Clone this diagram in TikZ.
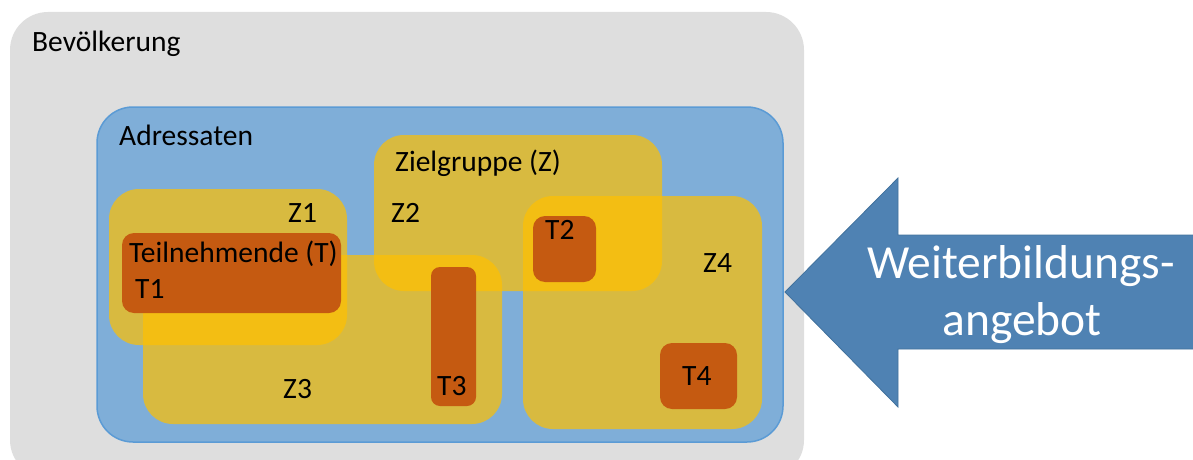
\documentclass[tikz,border=0pt]{standalone}
\usepackage{fontspec}
\setmainfont{Carlito}
\usepackage{tikz}

\definecolor{grau}{HTML}{DEDEDE}
\definecolor{adrblau}{HTML}{7FAED8}
\definecolor{adrrand}{HTML}{5B9BD5}
\definecolor{gold}{HTML}{FFC000}
\definecolor{rost}{HTML}{C55A11}
\definecolor{pfeil}{HTML}{4F82B3}
\definecolor{pfeilrand}{HTML}{41719C}

\begin{document}
\begin{tikzpicture}[x=1pt,y=-1pt,
  lbl/.style={inner sep=0pt,anchor=base west,font=\fontsize{29.5}{32}\selectfont},
  zbox/.style={fill=gold,fill opacity=0.7,rounded corners=30pt},
  tbox/.style={fill=rost,rounded corners=12pt}]
\clip (0,0) rectangle (1193,460);
\fill[grau,rounded corners=38pt] (10,12) rectangle (804,478);
\filldraw[fill=adrblau,draw=adrrand,line width=1.5pt,rounded corners=36pt] (97,107) rectangle (783,442);
% Zielgruppen
\fill[zbox] (109,189) rectangle (347,345);
\fill[zbox] (143,255) rectangle (502,424);
\fill[zbox] (374,135) rectangle (662,291);
\fill[zbox] (523,196) rectangle (762,429);
% Teilnehmende
\fill[tbox] (122,233) rectangle (341,313);
\fill[tbox,rounded corners=9pt] (431,267) rectangle (476,406);
\fill[tbox] (533,216) rectangle (596,282);
\fill[tbox] (660,343) rectangle (737,409);
% Weiterbildungsangebot
\filldraw[fill=pfeil,draw=pfeilrand,line width=0.8pt] (785,292) -- (898,178) -- (898,235) -- (1200,235)
  -- (1200,349) -- (898,349) -- (898,407) -- cycle;
\node[lbl] (bev) at (32,52) {Bevölkerung};
\node[lbl] (adr) at (119,145) {Adressaten};
\node[lbl] (ziel) at (395,171) {Zielgruppe (Z)};
\node[lbl] (z1) at (288,222) {Z1};
\node[lbl] (z2) at (391,222) {Z2};
\node[lbl] (z3) at (283,398) {Z3};
\node[lbl] (z4) at (703,272) {Z4};
\node[lbl] (teil) at (129,262) {Teilnehmende (T)};
\node[lbl] (t1) at (135,298) {T1};
\node[lbl] (t2) at (545,239) {T2};
\node[lbl] (t3) at (437,395) {T3};
\node[lbl] (t4) at (682,385) {T4};
\node[lbl,anchor=base,white,font=\fontsize{47.5}{52}\selectfont] (wb1) at (1021,278) {Weiterbildungs-};
\node[lbl,anchor=base,white,font=\fontsize{47.5}{52}\selectfont] (wb2) at (1022,335) {angebot};
\end{tikzpicture}
\end{document}
